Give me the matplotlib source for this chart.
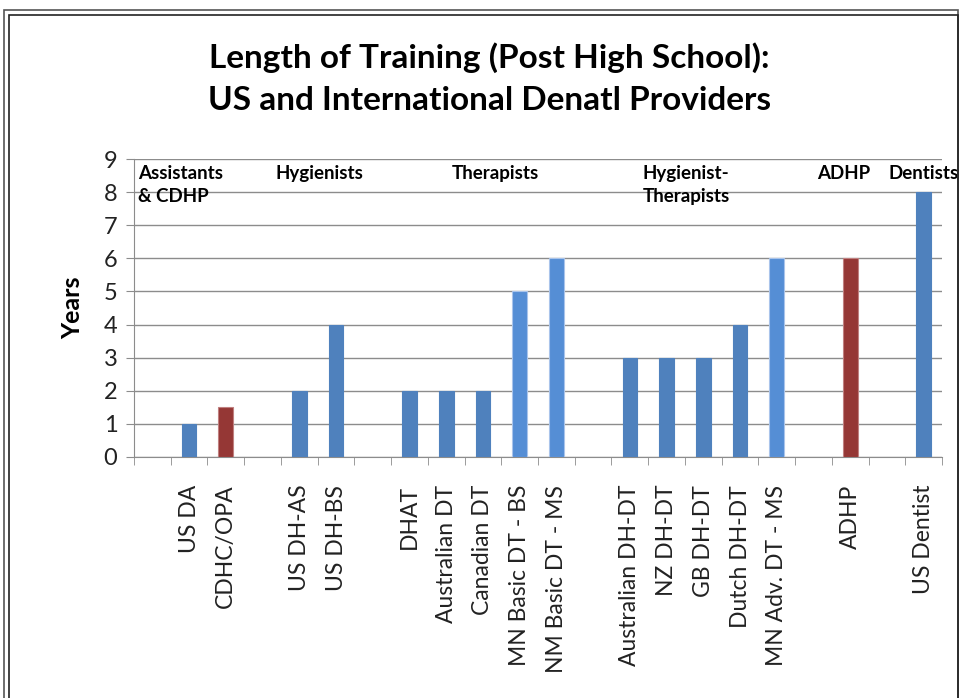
import matplotlib
matplotlib.use('Agg')
from matplotlib import pyplot as plt
from matplotlib.patches import Rectangle

plt.rcParams['font.family'] = ['Lato', 'DejaVu Sans']

# groups of providers, each group preceded by one empty slot on the axis
group_names = ['Assistants\n& CDHP', 'Hygienists', 'Therapists',
               'Hygienist-\nTherapists', 'ADHP', 'Dentists']
group_labels = [
    ['US DA', 'CDHC/OPA'],
    ['US DH-AS', 'US DH-BS'],
    ['DHAT', 'Australian DT', 'Canadian DT', 'MN Basic DT - BS', 'NM Basic DT - MS'],
    ['Australian DH-DT', 'NZ DH-DT', 'GB DH-DT', 'Dutch DH-DT', 'MN Adv. DT - MS'],
    ['ADHP'],
    ['US Dentist'],
]
group_values = [
    [1, 1.5],
    [2, 4],
    [2, 2, 2, 5, 6],
    [3, 3, 3, 4, 6],
    [6],
    [8],
]
# 'd' dark blue, 'l' light blue, 'r' red
group_kinds = [
    ['d', 'r'],
    ['d', 'd'],
    ['d', 'd', 'd', 'l', 'l'],
    ['d', 'd', 'd', 'd', 'l'],
    ['r'],
    ['d'],
]

colors = {'d': '#4F81BD', 'l': '#558ED5', 'r': '#953735'}
edges = {'d': '#4F81BD', 'l': '#A9C4EB', 'r': '#C08080'}

# header offsets (data x) for group names
header_x = [-0.39, 3.34, 8.14, 13.34, 18.1, 20.05]

fig = plt.figure(figsize=(9.6, 6.98), dpi=100)
ax = fig.add_axes([0.1396, 0.3453, 0.8417, 0.4269])

pos = 0
xs, vals, labs, kinds = [], [], [], []
for labels, values, kk in zip(group_labels, group_values, group_kinds):
    pos += 1
    for lab, v, k in zip(labels, values, kk):
        xs.append(pos)
        vals.append(v)
        labs.append(lab)
        kinds.append(k)
        pos += 1
nslots = pos

ax.bar(xs, vals, width=0.4, color=[colors[k] for k in kinds],
       edgecolor=[edges[k] for k in kinds], linewidth=0.8, zorder=3)

ax.set_xlim(-0.5, nslots - 0.5)
ax.set_ylim(0, 9)
ax.set_yticks(range(10))
ax.yaxis.grid(True, color='#8C8C8C', linewidth=1.0, zorder=0)
ax.set_xticks(xs)
ax.set_xticklabels(labs, rotation=90, fontsize=16.5, color='#222222')
ax.set_xticks([i - 0.5 for i in range(nslots + 1)], minor=True)
ax.tick_params(axis='x', which='major', length=0, pad=20)
ax.tick_params(axis='x', which='minor', length=6, color='#8C8C8C', direction='out')
ax.tick_params(axis='y', length=6, color='#8C8C8C', labelsize=17, pad=6, labelcolor='#222222')
for s in ['top', 'right']:
    ax.spines[s].set_visible(False)
for s in ['left', 'bottom']:
    ax.spines[s].set_color('#8C8C8C')
ax.set_ylabel('Years', fontsize=18, fontweight='bold', labelpad=14)

for name, hx in zip(group_names, header_x):
    ax.text(hx, 8.82, name, ha='left', va='top', fontsize=13.5, fontweight='bold',
            linespacing=1.4, clip_on=False, zorder=4)

fig.text(0.51, 0.918, 'Length of Training (Post High School):', ha='center', va='center',
         fontsize=24, fontweight='bold')
fig.text(0.51, 0.856, 'US and International Denatl Providers', ha='center', va='center',
         fontsize=24, fontweight='bold')

# outer frame
fig.patches.append(Rectangle((0.004, -0.02), 0.994, 1.005, transform=fig.transFigure,
                             fill=False, edgecolor='#555555', linewidth=1.2))
fig.patches.append(Rectangle((0.009, -0.02), 0.989, 0.998, transform=fig.transFigure,
                             fill=False, edgecolor='#222222', linewidth=1.2))

fig.savefig('out.png', dpi=100)
